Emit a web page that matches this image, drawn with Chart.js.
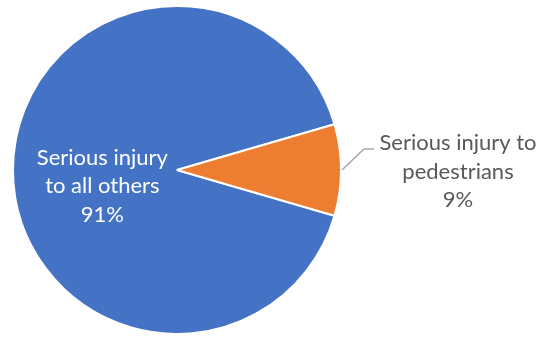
<!DOCTYPE html>
<html>
<head>
<meta charset="utf-8">
<script src="https://cdn.jsdelivr.net/npm/chart.js@4"></script>
<style>
  body { margin: 0; background: #fff; }
  #wrap { width: 541px; height: 337px; }
</style>
</head>
<body>
<div id="wrap"><canvas id="myChart"></canvas></div>
<script>
const categories = ['Serious injury to all others', 'Serious injury to pedestrians'];
const labelLines = [['Serious injury', 'to all others'], ['Serious injury to', 'pedestrians']];
const values = [91, 9];
const colors = ['#4472C4', '#ED7D31'];

const FONT = '22px Lato';

// draws the excel style data labels (inside for the big slice, outside with leader line for the small one)
const pieLabels = {
    id: 'pieLabels',
    afterDatasetsDraw(chart) {
        const ctx = chart.ctx;
        const meta = chart.getDatasetMeta(0);
        const total = values.reduce((a, b) => a + b, 0);
        ctx.save();
        ctx.font = FONT;
        ctx.textAlign = 'center';
        ctx.textBaseline = 'alphabetic';
        meta.data.forEach(function(arc, i) {
            const p = arc.getProps(['x', 'y', 'startAngle', 'endAngle', 'outerRadius']);
            const mid = (p.startAngle + p.endAngle) / 2;
            const lines = labelLines[i].concat([Math.round(values[i] / total * 100) + '%']);
            const lh = 28.5;
            if (i == 0) {
                const cx = p.x + Math.cos(mid) * p.outerRadius * 0.455;
                const cy = p.y + Math.sin(mid) * p.outerRadius * 0.455 + 16;
                ctx.fillStyle = '#ffffff';
                lines.forEach(function(t, k) {
                    ctx.fillText(t, cx, cy - lh + 7 + k * lh);
                });
            } else {
                const ex = p.x + Math.cos(mid) * p.outerRadius;
                const ey = p.y + Math.sin(mid) * p.outerRadius;
                ctx.strokeStyle = '#A6A6A6';
                ctx.lineWidth = 1.5;
                ctx.beginPath();
                ctx.moveTo(ex + 1, ey);
                ctx.lineTo(ex + 23, ey - 21);
                ctx.lineTo(ex + 33, ey - 21);
                ctx.stroke();
                ctx.fillStyle = '#595959';
                const tx = ex + 117;
                lines.forEach(function(t, k) {
                    ctx.fillText(t, tx, ey - 20 + k * lh);
                });
            }
        });
        ctx.restore();
    }
};

document.addEventListener('DOMContentLoaded', function() {
    const ctx = document.getElementById('myChart').getContext('2d');
    const myChart = new Chart(ctx, {
        type: 'pie',
        data: {
            labels: categories,
            datasets: [{
                data: values,
                backgroundColor: colors,
                borderColor: '#ffffff',
                borderWidth: 2
            }]
        },
        options: {
            responsive: true,
            maintainAspectRatio: false,
            animation: false,
            rotation: 106.2,
            layout: { padding: { left: 12, right: 199, top: 5, bottom: 2 } },
            plugins: {
                legend: { display: false },
                tooltip: { enabled: false }
            }
        },
        plugins: [pieLabels]
    });
});
</script>
</body>
</html>
